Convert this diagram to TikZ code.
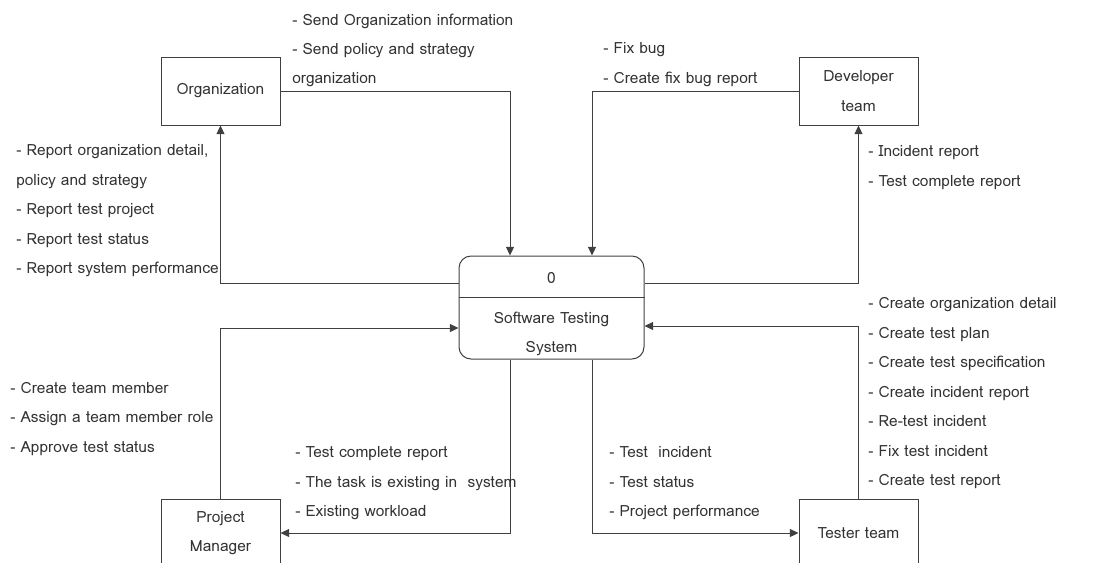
\documentclass[tikz,border=0pt]{standalone}
\usepackage{fontspec}
\setmainfont{Loma}
\usetikzlibrary{arrows.meta,calc}

\newcommand{\lbl}{\fontsize{11.6pt}{22.1pt}\selectfont}
\tikzset{
  entity/.style={draw=black!75, line width=0.75pt, minimum width=89.25pt, minimum height=51pt, align=center, font=\lbl, text=black!80},
  flow/.style={draw=black!75, line width=0.75pt, -{Triangle[length=6.5pt,width=6pt]}},
  notes/.style={anchor=west, inner sep=0pt, align=left, font=\lbl, text=black!80}
}

\begin{document}
\begin{tikzpicture}[x=0.75pt,y=-0.75pt]
\useasboundingbox (0,0) rectangle (1100,562);
% external entities:
\node[entity] (org) at (220.5,91) {Organization};
\node[entity] (dev) at (858.5,91) {Developer\\team};
\node[entity] (pm) at (220.5,533) {Project\\Manager};
\node[entity] (tester) at (858.5,533) {Tester team};
% process:
\node[draw=black!75, line width=0.75pt, rounded corners=9pt, minimum width=138.75pt, minimum height=77.25pt] (sys) at (551.5,307.5) {};
\draw[black!75, line width=0.75pt] ($(sys.west)+(0,-10.5)$) -- ($(sys.east)+(0,-10.5)$);
\node[font=\lbl, text=black!80] (sysnum) at (551.5,278) {0};
\node[font=\lbl, text=black!80, align=center] (sysname) at (551.5,334) {Software Testing\\System};
% data flows:
\draw[flow] (org.east) -| ($(sys.north)+(-41.5,0)$);
\draw[flow] (dev.west) -| ($(sys.north)+(40.5,0)$);
\draw[flow] ($(sys.west)+(0,-24.5)$) -| (org.south);
\draw[flow] ($(sys.east)+(0,-24.5)$) -| (dev.south);
\draw[flow] (pm.north) |- ($(sys.west)+(0,20.5)$);
\draw[flow] (tester.north) |- ($(sys.east)+(0,18.5)$);
\draw[flow] ($(sys.south)+(-41.5,0)$) |- (pm.east);
\draw[flow] ($(sys.south)+(40.5,0)$) |- (tester.west);
% flow labels:
\node[notes] (orgin) at (292,50.4) {- Send Organization information\\- Send policy and strategy\\organization};
\node[notes] (devin) at (603,64.5) {- Fix bug\\- Create fix bug report};
\node[notes] (orgout) at (16,211) {- Report organization detail,\\policy and strategy\\- Report test project\\- Report test status\\- Report system performance};
\node[notes] (devout) at (868,167.4) {- Incident report\\- Test complete report};
\node[notes] (pmin) at (10,419) {- Create team member\\- Assign a team member role\\- Approve test status};
\node[notes] (pmout) at (295,483.5) {- Test complete report\\- The task is existing in\ \ system\\- Existing workload};
\node[notes] (testerout) at (609,483.5) {- Test\ \ incident\\- Test status\\- Project performance};
\node[notes] (testerin) at (868,393.4) {- Create organization detail\\- Create test plan\\- Create test specification\\- Create incident report\\- Re-test incident\\- Fix test incident\\- Create test report};
\end{tikzpicture}
\end{document}
